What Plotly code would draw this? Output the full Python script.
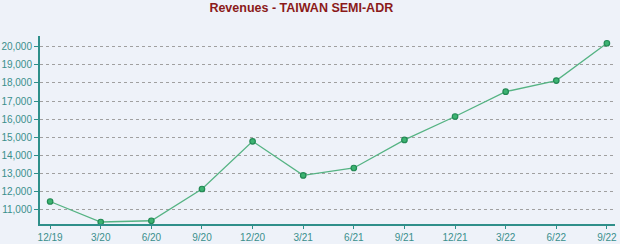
import plotly.graph_objects as go

quarters = ["12/19", "3/20", "6/20", "9/20", "12/20", "3/21", "6/21", "9/21", "12/21", "3/22", "6/22", "9/22"]
revenues = [11460, 10330, 10400, 12150, 14780, 12900, 13310, 14860, 16150, 17520, 18130, 20190]
y_ticks = [11000, 12000, 13000, 14000, 15000, 16000, 17000, 18000, 19000, 20000]

teal = "#2f8f8a"
fig = go.Figure(go.Scatter(
    x=list(range(len(quarters))), y=revenues, mode="lines+markers",
    line=dict(color="#55b383", width=1.3),
    marker=dict(size=5.5, color="#3cb371", line=dict(color="#238a55", width=1.2)),
    hoverinfo="skip", cliponaxis=False,
))
fig.update_layout(
    width=620, height=244,
    margin=dict(l=40, r=5, t=36, b=20),
    paper_bgcolor="#eef2f9", plot_bgcolor="#eef2f9",
    showlegend=False,
    title=dict(text="<b>Revenues - TAIWAN SEMI-ADR</b>", x=0.486, xref="container", xanchor="center",
               y=0.985, yanchor="top",
               font=dict(family="Liberation Sans, Arial", size=12.5, color="#8b1a1a")),
    font=dict(family="Liberation Sans, Arial", size=10, color="#3a8f8c"),
)
fig.update_xaxes(
    range=[-0.2, 11.16], tickmode="array", tickvals=list(range(len(quarters))), ticktext=quarters,
    showgrid=False, zeroline=False, showline=True, linecolor=teal, linewidth=2, automargin=False,
    ticks="outside", ticklen=3, tickcolor=teal, tickfont=dict(color="#3a8f8c", size=10),
)
fig.update_yaxes(
    range=[10220, 20590], tickmode="array", tickvals=y_ticks,
    ticktext=[f"{v:,}" for v in y_ticks], automargin=False,
    showgrid=True, gridcolor="#a0a0a0", griddash="dot", gridwidth=1,
    zeroline=False, showline=True, linecolor=teal, linewidth=2,
    ticks="outside", ticklen=4, tickcolor=teal, tickfont=dict(color="#3a8f8c", size=10),
)
fig.write_html("out.html")
